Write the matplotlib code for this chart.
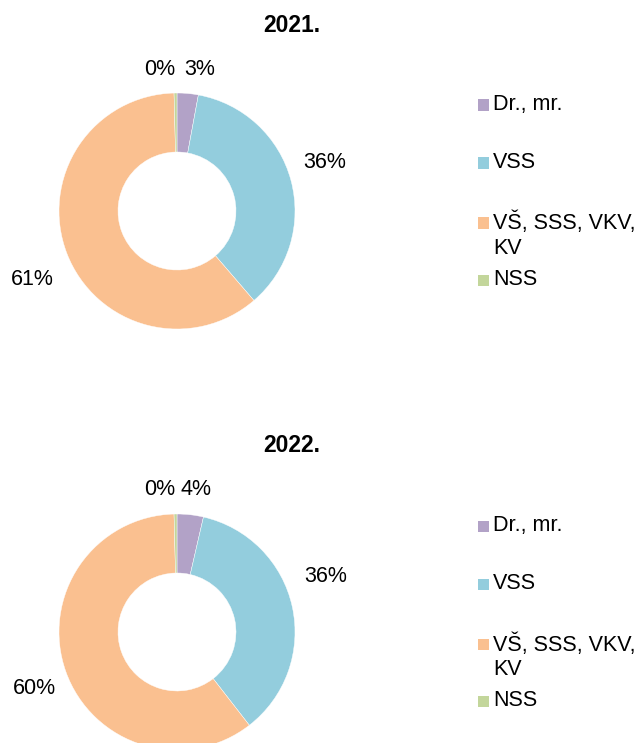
import matplotlib
matplotlib.use("Agg")
import matplotlib.pyplot as plt
from matplotlib.patches import Rectangle

plt.rcParams['font.family'] = ['Liberation Sans', 'DejaVu Sans']

# ---- data ----
categories = ["Dr., mr.", "VSS", "VŠ, SSS, VKV,\nKV", "NSS"]
years = ["2021.", "2022."]
values_2021 = [2.9, 35.8, 60.9, 0.4]
values_2022 = [3.6, 35.9, 60.1, 0.4]
labels_2021 = ["3%", "36%", "61%", "0%"]
labels_2022 = ["4%", "36%", "60%", "0%"]
colors = ["#B2A2C7", "#93CDDD", "#FAC090", "#C3D69B"]

# ---- layout (pixels) ----
W, H = 638, 743
panel_offset = 421
cx, cy0, R = 177, 211, 118
title_x, title_y0 = 292, 25
leg_marker_x, leg_text_x = 478, 493
leg_rows = [105, 163, 223, 280]
label_pos = {
    "2021.": [(0.195, 1.20), (1.254, 0.41), (-1.23, -0.58), (-0.144, 1.20)],
    "2022.": [(0.165, 1.21), (1.26, 0.47), (-1.21, -0.48), (-0.144, 1.21)],
}

fig = plt.figure(figsize=(W / 100, H / 100), dpi=100)

series = [(values_2021, labels_2021), (values_2022, labels_2022)]
for i, (year, (vals, labs)) in enumerate(zip(years, series)):
    off = i * panel_offset
    cy = cy0 + off
    ax = fig.add_axes([(cx - R) / W, 1 - (cy + R) / H, 2 * R / W, 2 * R / H])
    ax.pie(vals, colors=colors, startangle=90, counterclock=False, radius=1,
           wedgeprops=dict(width=0.5, edgecolor="white", linewidth=0.3))
    ax.set_xlim(-1, 1)
    ax.set_ylim(-1, 1)
    ax.set_aspect("auto")
    ax.axis("off")
    for lab, (lx, ly) in zip(labs, label_pos[year]):
        ax.text(lx, ly, lab, ha="center", va="center", fontsize=15.5,
                color="black", clip_on=False)
    fig.text(title_x / W, 1 - (title_y0 + off) / H, year, ha="center",
             va="center", fontsize=16.5, fontweight="bold")
    # legend
    for cat, col, ry in zip(categories, colors, leg_rows):
        y = ry + off
        ms = 11
        fig.patches.append(Rectangle((leg_marker_x / W, 1 - (y + ms / 2) / H),
                                     ms / W, ms / H, transform=fig.transFigure,
                                     facecolor=col, edgecolor="none"))
        fig.text(leg_text_x / W, 1 - (y - 11) / H, cat, ha="left", va="top",
                 fontsize=15.5, linespacing=1.2)

fig.savefig("out.png", dpi=100)
